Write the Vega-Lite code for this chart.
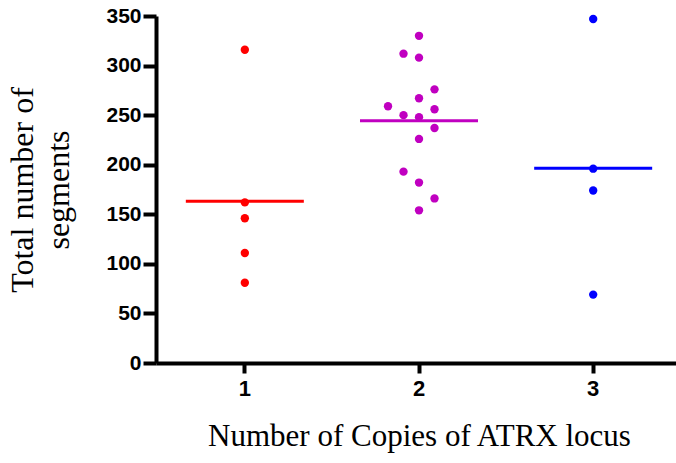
{
  "$schema": "https://vega.github.io/schema/vega-lite/v6.json",
  "width": 520,
  "height": 347,
  "autosize": {"type": "none"},
  "padding": {"left": 156, "top": 16, "right": 0, "bottom": 100},
  "background": "white",
  "config": {
    "view": {"stroke": null},
    "axis": {
      "grid": false,
      "domainColor": "black",
      "domainWidth": 4,
      "tickColor": "black",
      "tickWidth": 4,
      "labelFont": "Liberation Sans",
      "labelFontWeight": "bold",
      "labelColor": "black",
      "titleFont": "Liberation Serif",
      "titleFontWeight": "normal",
      "titleColor": "black"
    }
  },
  "data": {
    "values": [
      {"copies": "1", "slot": 0, "segments": 316},
      {"copies": "1", "slot": 0, "segments": 162},
      {"copies": "1", "slot": 0, "segments": 146},
      {"copies": "1", "slot": 0, "segments": 111},
      {"copies": "1", "slot": 0, "segments": 81},
      {"copies": "2", "slot": 0, "segments": 330},
      {"copies": "2", "slot": -1, "segments": 312},
      {"copies": "2", "slot": 0, "segments": 308},
      {"copies": "2", "slot": 1, "segments": 276},
      {"copies": "2", "slot": 0, "segments": 267},
      {"copies": "2", "slot": -2, "segments": 259},
      {"copies": "2", "slot": 1, "segments": 256},
      {"copies": "2", "slot": -1, "segments": 250},
      {"copies": "2", "slot": 0, "segments": 248},
      {"copies": "2", "slot": 1, "segments": 237},
      {"copies": "2", "slot": 0, "segments": 226},
      {"copies": "2", "slot": -1, "segments": 193},
      {"copies": "2", "slot": 0, "segments": 182},
      {"copies": "2", "slot": 1, "segments": 166},
      {"copies": "2", "slot": 0, "segments": 154},
      {"copies": "3", "slot": 0, "segments": 347},
      {"copies": "3", "slot": 0, "segments": 196},
      {"copies": "3", "slot": 0, "segments": 174},
      {"copies": "3", "slot": 0, "segments": 69}
    ]
  },
  "encoding": {
    "x": {
      "field": "copies",
      "type": "ordinal",
      "scale": {"type": "band", "paddingInner": 0, "paddingOuter": 0.01, "range": [0, 526]},
      "axis": {
        "labelAngle": 0,
        "labelFontSize": 22,
        "labelPadding": 5,
        "tickSize": 10,
        "title": "Number of Copies of ATRX locus",
        "titleFontSize": 31,
        "titlePadding": 22
      }
    },
    "color": {
      "field": "copies",
      "type": "nominal",
      "scale": {"domain": ["1", "2", "3"], "range": ["#FF0000", "#C000C0", "#0000FF"]},
      "legend": null
    }
  },
  "layer": [
    {
      "mark": {"type": "circle", "size": 70, "opacity": 1},
      "encoding": {
        "y": {
          "field": "segments",
          "type": "quantitative",
          "scale": {"domain": [0, 350], "nice": false},
          "axis": {
            "values": [0, 50, 100, 150, 200, 250, 300, 350],
            "labelFontSize": 21,
            "labelPadding": 2,
            "tickSize": 13,
            "title": ["Total number of", "segments"],
            "titleFontSize": 32,
            "titleLineHeight": 36,
            "titlePadding": 30
          }
        },
        "xOffset": {
          "field": "slot",
          "type": "quantitative",
          "scale": {"domain": [-2, 2], "range": [56.1, 118.1]}
        }
      }
    },
    {
      "mark": {"type": "tick", "orient": "horizontal", "size": 118, "thickness": 3},
      "encoding": {
        "y": {"aggregate": "mean", "field": "segments", "type": "quantitative"}
      }
    }
  ]
}
